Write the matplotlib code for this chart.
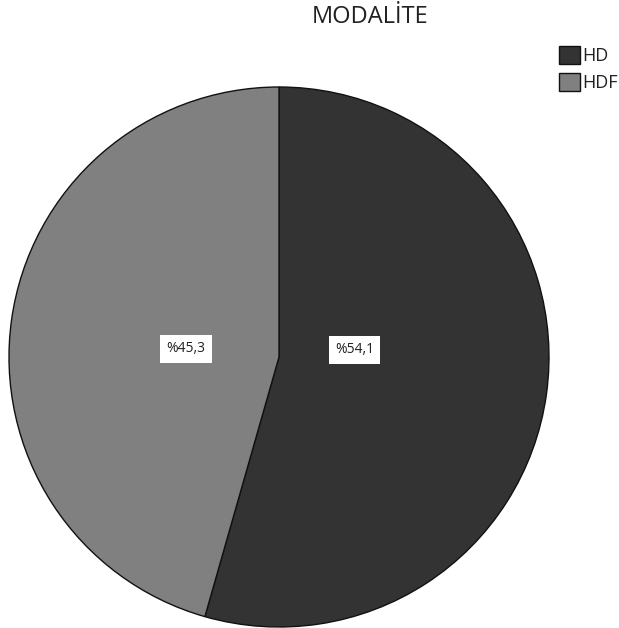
import matplotlib
matplotlib.use("Agg")
import matplotlib.pyplot as plt
from matplotlib.patches import Patch

plt.rcParams['font.family'] = ['Open Sans', 'DejaVu Sans']

categories = ["HD", "HDF"]
values = [54.1, 45.3]
colors = ["#333333", "#808080"]
title = "MODALİTE"

fig = plt.figure(figsize=(6.19, 6.28), dpi=100)
ax = fig.add_axes([9 / 619, 1 / 628, 540 / 619, 540 / 628])

wedges, _ = ax.pie(values, colors=colors, startangle=90, counterclock=False,
                   radius=1.0,
                   wedgeprops=dict(edgecolor="#111111", linewidth=1.0))
ax.set_xlim(-1, 1)
ax.set_ylim(-1, 1)
ax.set_aspect("equal")

# percentage labels in white boxes
label_pos = {"HD": (0.28, 0.026), "HDF": (-0.345, 0.03)}
for cat, val in zip(categories, values):
    x, y = label_pos[cat]
    ax.text(x, y, "%" + f"{val:.1f}".replace(".", ","), ha="center", va="center",
            fontsize=10, color="#222222",
            bbox=dict(facecolor="white", edgecolor="none", boxstyle="square,pad=0.45"))

fig.text(370 / 619, 1 - 17 / 628, title, ha="center", va="center",
         fontsize=17, color="#222222")

handles = [Patch(facecolor=c, edgecolor="#111111", linewidth=1.0) for c in colors]
fig.legend(handles, categories, loc="upper left", bbox_to_anchor=(550 / 619, 1 - 37 / 628),
           frameon=False, fontsize=13, handlelength=1.15, handleheight=1.15,
           handletextpad=0.15, labelspacing=0.45, borderpad=0.0, labelcolor="#222222")

fig.savefig("out.png", dpi=100, facecolor="white")
